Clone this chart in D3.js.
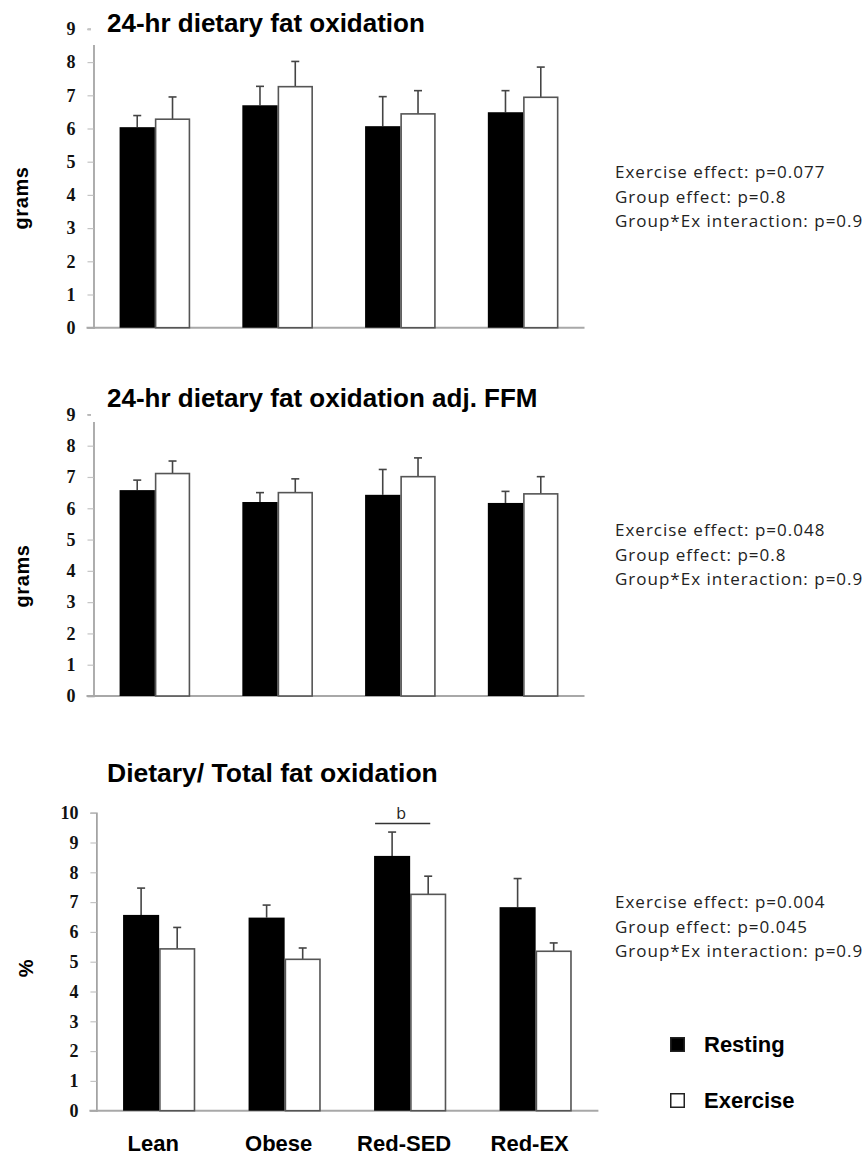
<!DOCTYPE html>
<html><head><meta charset="utf-8">
<script src="https://cdn.jsdelivr.net/npm/d3@7"></script>
<style>
  body { margin: 0; background: #fff; }
  svg { display: block; }
</style>
</head><body>
<svg id="fig" width="865" height="1155"></svg>
<script>
// Groups and conditions
const groups = ["Lean", "Obese", "Red-SED", "Red-EX"];
const conditions = ["Resting", "Exercise"];

// 24-hr dietary fat oxidation (grams): mean and SE
const dietFatRest = [6.04, 6.70, 6.07, 6.49];
const dietFatRestSE = [0.35, 0.57, 0.89, 0.65];
const dietFatEx = [6.28, 7.26, 6.44, 6.94];
const dietFatExSE = [0.67, 0.76, 0.70, 0.91];

// 24-hr dietary fat oxidation adjusted for FFM (grams)
const dietFatAdjRest = [6.58, 6.20, 6.43, 6.17];
const dietFatAdjRestSE = [0.32, 0.30, 0.81, 0.37];
const dietFatAdjEx = [7.11, 6.50, 7.01, 6.46];
const dietFatAdjExSE = [0.40, 0.44, 0.60, 0.55];

// Dietary / total fat oxidation (%)
const ratioRest = [6.57, 6.48, 8.55, 6.83];
const ratioRestSE = [0.90, 0.42, 0.80, 0.96];
const ratioEx = [5.43, 5.08, 7.26, 5.35];
const ratioExSE = [0.72, 0.38, 0.61, 0.28];

// Y tick values
const ticksGrams = [0, 1, 2, 3, 4, 5, 6, 7, 8, 9];
const ticksPct = [0, 1, 2, 3, 4, 5, 6, 7, 8, 9, 10];

// Statistics
const statsA = ["Exercise effect: p=0.077", "Group effect: p=0.8", "Group*Ex interaction: p=0.9"];
const statsB = ["Exercise effect: p=0.048", "Group effect: p=0.8", "Group*Ex interaction: p=0.9"];
const statsC = ["Exercise effect: p=0.004", "Group effect: p=0.045", "Group*Ex interaction: p=0.9"];

// Significance bracket over Red-SED in the % panel
const sigGroup = "Red-SED";
const sigLabel = "b";
const sigLevel = 9.64;

const fills = { Resting: "#000", Exercise: "#fff" };

const svg = d3.select("#fig");

function panel(opts) {
  const { title, titleY, titleSize, yLabel, yLabelY, yLabelX, rest, restSE, ex, exSE,
          ticks, yMax, y0, yTopPx, xRange, stats, statsY, showCats, titleMask } = opts;

  const y = d3.scaleLinear().domain([0, yMax]).range([y0, yTopPx]);
  const x = d3.scaleBand().domain(groups).range(xRange)
    .paddingInner(0.425).paddingOuter(0.2125);
  const xc = d3.scaleBand().domain(conditions).range([0, x.bandwidth()]);

  const g = svg.append("g");

  // Y axis
  const axis = d3.axisLeft(y).tickValues(ticks).tickSize(6).tickPadding(12)
    .tickFormat(d3.format("d"));
  const ag = g.append("g").attr("transform", `translate(${xRange[0]},0)`).call(axis);
  ag.select(".domain").attr("stroke", "#9a9a9a").attr("stroke-width", 1.6);
  ag.selectAll(".tick line").attr("stroke", "#c4c4c4").attr("stroke-width", 1.2);
  ag.selectAll(".tick text")
    .attr("font-family", "'Liberation Serif', 'DejaVu Serif', serif")
    .attr("font-weight", "bold").attr("font-size", 18).attr("fill", "#111");

  // Baseline
  g.append("line")
    .attr("x1", xRange[0] - 7).attr("x2", xRange[1])
    .attr("y1", y(0)).attr("y2", y(0))
    .attr("stroke", "#a8a8a8").attr("stroke-width", 2);

  const rows = groups.map((grp, i) => ([
    { grp, cond: "Resting", v: rest[i], se: restSE[i] },
    { grp, cond: "Exercise", v: ex[i], se: exSE[i] }
  ])).flat();

  // Error bars (upper only)
  const eb = g.append("g").selectAll("g").data(rows).join("g");
  eb.append("line")
    .attr("x1", d => x(d.grp) + xc(d.cond) + xc.bandwidth() / 2)
    .attr("x2", d => x(d.grp) + xc(d.cond) + xc.bandwidth() / 2)
    .attr("y1", d => y(d.v)).attr("y2", d => y(d.v + d.se))
    .attr("stroke", "#444").attr("stroke-width", 1.6);
  eb.append("line")
    .attr("x1", d => x(d.grp) + xc(d.cond) + xc.bandwidth() / 2 - 4)
    .attr("x2", d => x(d.grp) + xc(d.cond) + xc.bandwidth() / 2 + 4)
    .attr("y1", d => y(d.v + d.se)).attr("y2", d => y(d.v + d.se))
    .attr("stroke", "#444").attr("stroke-width", 1.6);

  // Bars
  g.append("g").selectAll("rect").data(rows).join("rect")
    .attr("x", d => x(d.grp) + xc(d.cond) + (d.cond === "Exercise" ? 0.75 : 0))
    .attr("width", d => xc.bandwidth() - (d.cond === "Exercise" ? 1.5 : 0))
    .attr("y", d => y(d.v))
    .attr("height", d => y(0) - y(d.v))
    .attr("fill", d => fills[d.cond])
    .attr("stroke", d => d.cond === "Exercise" ? "#555" : "none")
    .attr("stroke-width", 1.6);

  // Title (with white box over the axis top)
  if (titleMask) {
    g.append("rect").attr("x", xRange[0] - 2.5).attr("y", titleY - 40)
      .attr("width", titleMask.w).attr("height", titleMask.h).attr("fill", "#fff");
  }
  g.append("text").attr("x", 107).attr("y", titleY)
    .attr("font-family", "'Liberation Sans', Arial, sans-serif")
    .attr("font-weight", "bold").attr("font-size", titleSize).attr("fill", "#000")
    .text(title);

  // Y-axis label
  g.append("text")
    .attr("transform", `translate(${yLabelX},${yLabelY}) rotate(-90)`)
    .attr("text-anchor", "middle")
    .attr("font-family", "'Liberation Sans', Arial, sans-serif")
    .attr("font-weight", "bold").attr("font-size", 20).attr("letter-spacing", 0.6)
    .attr("fill", "#000").text(yLabel);

  // Statistics
  g.append("g").selectAll("text").data(stats).join("text")
    .attr("x", 615).attr("y", (d, i) => statsY + i * 24.5)
    .attr("font-family", "'Open Sans', 'Noto Sans', sans-serif")
    .attr("font-size", 17).attr("letter-spacing", 1.0).attr("fill", "#222")
    .text(d => d);

  // Category labels
  if (showCats) {
    g.append("g").selectAll("text").data(groups).join("text")
      .attr("x", d => x(d) + x.bandwidth() / 2 - 6).attr("y", y(0) + 40)
      .attr("text-anchor", "middle")
      .attr("font-family", "'Liberation Sans', Arial, sans-serif")
      .attr("font-weight", "bold").attr("font-size", 22).attr("fill", "#000")
      .text(d => d);
  }

  return { g, x, y, xc };
}

panel({
  title: "24-hr dietary fat oxidation", titleY: 32, titleSize: 26, titleMask: { w: 340, h: 53 },
  yLabel: "grams", yLabelX: 28, yLabelY: 198,
  rest: dietFatRest, restSE: dietFatRestSE, ex: dietFatEx, exSE: dietFatExSE,
  ticks: ticksGrams, yMax: 9, y0: 327.7, yTopPx: 28.9, xRange: [93.5, 584.5],
  stats: statsA, statsY: 178, showCats: false
});

panel({
  title: "24-hr dietary fat oxidation adj. FFM", titleY: 407, titleSize: 26, titleMask: { w: 450, h: 55 },
  yLabel: "grams", yLabelX: 29, yLabelY: 576,
  rest: dietFatAdjRest, restSE: dietFatAdjRestSE, ex: dietFatAdjEx, exSE: dietFatAdjExSE,
  ticks: ticksGrams, yMax: 9, y0: 696, yTopPx: 414.4, xRange: [93.5, 584.5],
  stats: statsB, statsY: 536, showCats: false
});

const pC = panel({
  title: "Dietary/ Total fat oxidation", titleY: 782, titleSize: 26.5, titleMask: null,
  yLabel: "%", yLabelX: 33, yLabelY: 968,
  rest: ratioRest, restSE: ratioRestSE, ex: ratioEx, exSE: ratioExSE,
  ticks: ticksPct, yMax: 10, y0: 1110.7, yTopPx: 812.7, xRange: [96.4, 598.4],
  stats: statsC, statsY: 908, showCats: true
});

// Significance bracket
pC.g.append("line")
  .attr("x1", pC.x(sigGroup) + 1).attr("x2", pC.x(sigGroup) + pC.x.bandwidth() - 16)
  .attr("y1", pC.y(sigLevel)).attr("y2", pC.y(sigLevel))
  .attr("stroke", "#333").attr("stroke-width", 1.5);
pC.g.append("text")
  .attr("x", pC.x(sigGroup) + pC.x.bandwidth() / 2 - 9).attr("y", pC.y(sigLevel) - 4)
  .attr("text-anchor", "middle")
  .attr("font-family", "'Open Sans', 'Noto Sans', sans-serif")
  .attr("font-size", 16).attr("fill", "#222").text(sigLabel);

// Legend
const legend = svg.append("g").selectAll("g").data(conditions).join("g")
  .attr("transform", (d, i) => `translate(670,${1037 + i * 56})`);
legend.append("rect").attr("x", 0.75).attr("y", 0.75).attr("width", 13.5).attr("height", 13.5)
  .attr("fill", d => fills[d]).attr("stroke", "#222").attr("stroke-width", 1.5);
legend.append("text").attr("x", 34).attr("y", 15)
  .attr("font-family", "'Liberation Sans', Arial, sans-serif")
  .attr("font-weight", "bold").attr("font-size", 22).attr("fill", "#000")
  .text(d => d);
</script>
</body></html>
